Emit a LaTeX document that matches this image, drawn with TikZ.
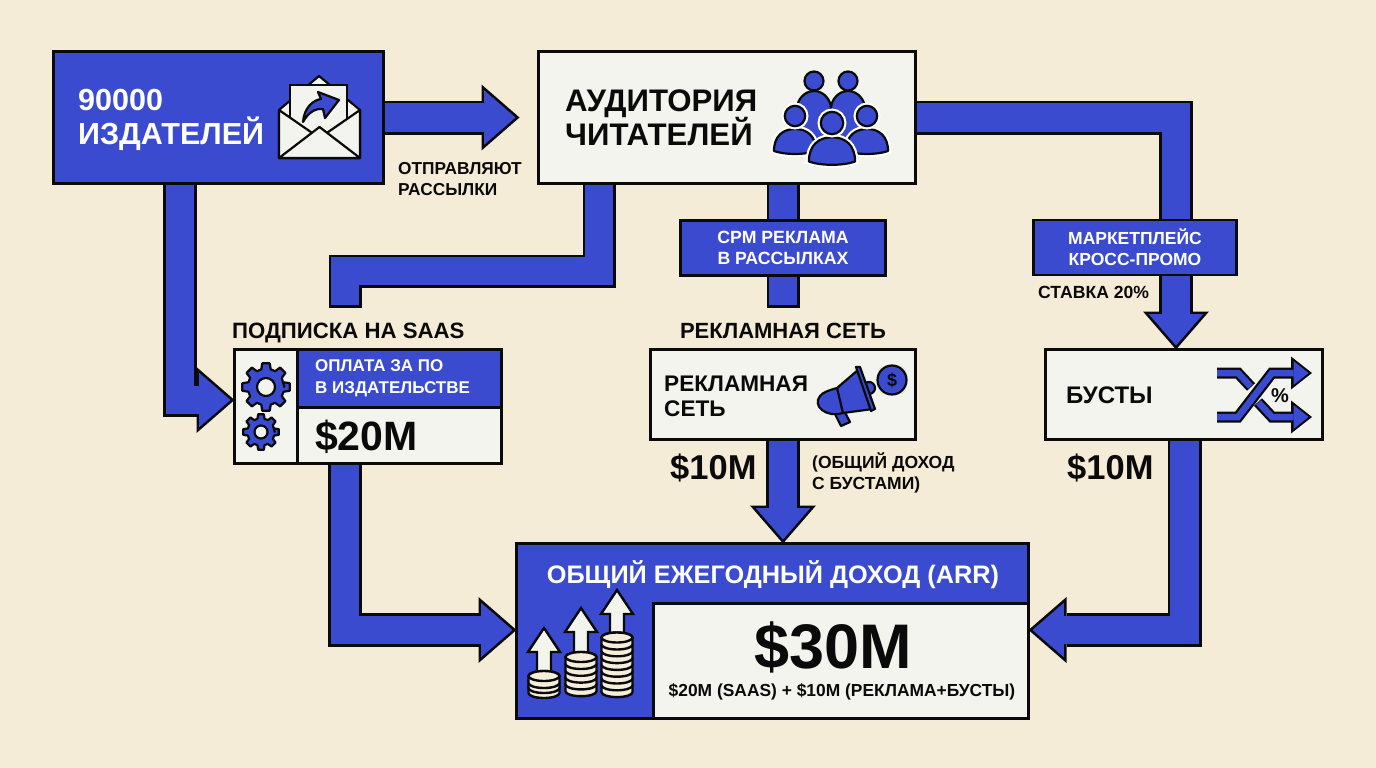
\documentclass[tikz,border=0pt]{standalone}
\usepackage{fontspec}
\setmainfont{Liberation Sans}
\usepackage{xcolor}
\usetikzlibrary{arrows.meta, backgrounds}
\definecolor{PageCream}{HTML}{F5ECD7}
\definecolor{FlowBlue}{HTML}{3A4BCF}
\definecolor{PaperWhite}{HTML}{F4F4EE}
\definecolor{CoinCream}{HTML}{F6EEDC}
\definecolor{InkBlack}{HTML}{0A0A0A}

\newcommand{\fs}[2]{\fontsize{#1}{#2}\selectfont\bfseries\lineskiplimit=-50pt\relax}

\tikzset{
    flow/.style={
        preaction={draw=InkBlack, line width=34pt, shorten >=0pt,
            -{Triangle[length=38pt, width=66pt, line width=0pt, color=InkBlack, fill=InkBlack]}},
        draw=FlowBlue, line width=28.8pt, shorten >=4pt,
        -{Triangle[length=31.4pt, width=54.5pt, line width=0pt, color=FlowBlue, fill=FlowBlue]}},
    flowline/.style={
        preaction={draw=InkBlack, line width=33pt, shorten >=0pt},
        draw=FlowBlue, line width=27.8pt, shorten >=2.6pt},
    shuffleout/.style={draw=InkBlack, line width=11pt, line join=miter,
        -{Triangle[length=21pt, width=33pt, line width=0pt, color=InkBlack, fill=InkBlack]}},
    shufflein/.style={draw=FlowBlue, line width=6.5pt, line join=miter, shorten >=3.5pt,
        -{Triangle[length=15pt, width=24pt, line width=0pt, color=FlowBlue, fill=FlowBlue]}},
    bluebox/.style={draw=InkBlack, line width=2.6pt, fill=FlowBlue, outer sep=0pt, inner sep=0pt},
    paperbox/.style={draw=InkBlack, line width=2.6pt, fill=PaperWhite, outer sep=0pt, inner sep=0pt},
    blacktxt/.style={text=InkBlack, inner sep=0pt, align=left, anchor=west},
    whitetxt/.style={text=white, inner sep=0pt, align=left, anchor=west},
    icon/.style={draw=InkBlack, line width=2.2pt, fill=FlowBlue, line join=round},
    iconpaper/.style={draw=InkBlack, line width=2.2pt, fill=PaperWhite, line join=round},
    halo/.style={preaction={draw=white, line width=6.5pt}},
}

% head at (#2,#3), size factor #4
\newcommand{\person}[4][]{
    \begin{scope}[shift={(#2,#3)}, scale=#4]
        \draw[icon, #1] (-21,35) .. controls (-21,20) and (-12,13) .. (0,13)
            .. controls (12,13) and (21,20) .. (21,35)
            .. controls (10,39) and (-10,39) .. cycle;
        \draw[icon, #1] (0,0) circle (10.2);
    \end{scope}
}
% person behind the others: head at (#1,#2), long body
\newcommand{\backperson}[2]{
    \begin{scope}[shift={(#1,#2)}]
        \draw[icon] (-17,60) -- (-17,28) .. controls (-17,18) and (-9,10) .. (0,10)
            .. controls (9,10) and (17,18) .. (17,28) -- (17,60) -- cycle;
        \draw[icon] (0,0) circle (9.5);
    \end{scope}
}
% centre (#1,#2), outer radius #3, hole radius #4
\newcommand{\gear}[4]{
    \begin{scope}[shift={(#1,#2)}]
        \draw[icon] (0:#3*0.76) \foreach \a in {0,45,...,315} {
            -- (\a-15:#3*0.76) -- (\a-9:#3) -- (\a+9:#3) -- (\a+15:#3*0.76)
        } -- cycle;
        \draw[iconpaper] (0,0) circle (#4);
    \end{scope}
}
% centre x #1, top y #2, number of coins #3, coin step #4
\newcommand{\coins}[4]{
    \foreach \k in {#3,...,1} {
        \pgfmathsetmacro{\ytop}{#2+(\k-1)*#4}
        \draw[draw=InkBlack, line width=2.4pt, fill=CoinCream]
            (#1-15.5,\ytop) -- (#1-15.5,\ytop+7) arc[start angle=180, end angle=360, x radius=15.5, y radius=-5]
            -- (#1+15.5,\ytop) arc[start angle=0, end angle=180, x radius=15.5, y radius=-5] -- cycle;
    }
    \draw[draw=InkBlack, line width=2.4pt, fill=CoinCream] (#1,#2) ellipse (15.5 and 5);
}
% tip x #1, tip y #2, foot y #3
\newcommand{\uparrowicon}[3]{
    \draw[iconpaper, line width=2.4pt, line join=miter] (#1,#2) -- (#1+16,#2+24) -- (#1+7,#2+24) -- (#1+7,#3)
        -- (#1-7,#3) -- (#1-7,#2+24) -- (#1-16,#2+24) -- cycle;
}

\begin{document}
\begin{tikzpicture}[x=1pt, y=-1pt]
    \useasboundingbox (0,0) rectangle (1376,768);

    % Boxes
    \node[bluebox, minimum width=330pt, minimum height=132pt] (publishers) at (218.5,117.5) {};
    \node[paperbox, minimum width=377pt, minimum height=132pt] (audience) at (727,117.5) {};
    \node[paperbox, minimum width=267pt, minimum height=114pt] (saas) at (368,406.5) {};
    \node[bluebox, minimum width=204pt, minimum height=58pt] (saashead) at (399.5,378.5) {};
    \draw[InkBlack, line width=2.6pt] (saashead.south west) -- (saashead.west |- saas.south);
    \node[paperbox, minimum width=265pt, minimum height=90pt] (adnet) at (783,394.5) {};
    \node[paperbox, minimum width=277pt, minimum height=90pt] (boosts) at (1184,394.5) {};
    \node[bluebox, minimum width=205pt, minimum height=55pt] (cpm) at (783,248) {};
    \node[bluebox, minimum width=203pt, minimum height=55pt] (market) at (1135,247.5) {};
    \node[bluebox, minimum width=512pt, minimum height=175pt] (arr) at (772.5,631) {};
    \node[paperbox, minimum width=375pt, minimum height=115pt] (arrvalue) at (841,661) {};

    % Free ends of the connectors
    \coordinate (saasstub) at (345,308);
    \coordinate (cpmstub) at (783,308);

    % Block connectors, below the boxes
    \begin{pgfonlayer}{background}
        \fill[PageCream] (0,0) rectangle (1376,768);
        \draw[flow] (publishers.east) -- ([xshift=-19pt]audience.west);
        \draw[flow] ([xshift=-38.5pt]publishers.south) |- ([yshift=6.5pt]saas.west);
        \draw[flowline] ([xshift=-128pt]audience.south) -- ++(0,87.5) -| (saasstub);
        \draw[flowline] (audience.south -| cpmstub) -- (cpmstub);
        \draw[flow] (audience.east) -| ([xshift=-8pt]boosts.north);
        \draw[flow] (adnet.south) -- ([xshift=10.5pt]arr.north);
        \draw[flow] ([xshift=-23pt]saas.south) |- ([yshift=1pt]arr.west);
        \draw[flow] ([xshift=0.5pt]boosts.south) |- ([yshift=1pt]arr.east);
    \end{pgfonlayer}

    % Texts
    \node[whitetxt, font=\fs{30.5}{34}] (publisherstxt) at (78,119.5) {90000\\ИЗДАТЕЛЕЙ};
    \node[blacktxt, font=\fs{17.3}{20.5}] (sendtxt) at (398,179) {ОТПРАВЛЯЮТ\\РАССЫЛКИ};
    \node[blacktxt, font=\fs{31.2}{34}] (audiencetxt) at (565,117.5) {АУДИТОРИЯ\\ЧИТАТЕЛЕЙ};
    \node[whitetxt, font=\fs{17.7}{21}, align=center, anchor=center] (cpmtxt) at (cpm) {СРМ РЕКЛАМА\\В РАССЫЛКАХ};
    \node[whitetxt, font=\fs{17.5}{21}, align=center, anchor=center] (markettxt) at (market) {МАРКЕТПЛЕЙС\\КРОСС-ПРОМО};
    \node[blacktxt, font=\fs{17.6}{17.6}] (ratetxt) at (1038,292) {СТАВКА 20\%};
    \node[blacktxt, font=\fs{22.2}{22}] (saastitle) at (232,332.5) {ПОДПИСКА НА SAAS};
    \node[whitetxt, font=\fs{17}{22}] (saasheadtxt) at (315,378.5) {ОПЛАТА ЗА ПО\\В ИЗДАТЕЛЬСТВЕ};
    \node[blacktxt, font=\fs{41}{41}] (saasval) at (315,437) {\$20M};
    \node[blacktxt, font=\fs{22}{22}, anchor=center] (adtitle) at (783,330.5) {РЕКЛАМНАЯ СЕТЬ};
    \node[blacktxt, font=\fs{22.6}{25}] (adtxt) at (664,396) {РЕКЛАМНАЯ\\СЕТЬ};
    \node[blacktxt, font=\fs{34.5}{34.5}] (adval) at (670,468) {\$10M};
    \node[blacktxt, font=\fs{17.5}{21.5}] (adnote) at (812,473) {(ОБЩИЙ ДОХОД\\С БУСТАМИ)};
    \node[blacktxt, font=\fs{24}{24}] (boosttxt) at (1066,395) {БУСТЫ};
    \node[blacktxt, font=\fs{34.5}{34.5}] (boostval) at (1067,468) {\$10M};
    \node[whitetxt, font=\fs{25.3}{25}, anchor=center] (arrtitle) at (773,575) {ОБЩИЙ ЕЖЕГОДНЫЙ ДОХОД (ARR)};
    \node[blacktxt, font=\fs{63}{63}, anchor=center] (arrval) at (833,647) {\$30M};
    \node[blacktxt, font=\fs{17.4}{17}, anchor=center] (arrsum) at (842,692) {\$20M (SAAS) + \$10M (РЕКЛАМА+БУСТЫ)};

    % Envelope icon
    \draw[iconpaper] (279,110) -- (319,76) -- (360,110) -- (360,158) -- (279,158) -- cycle;
    \draw[iconpaper, line join=miter] (290,136) -- (290,85) -- (347,85) -- (347,136);
    \draw[icon] (303,122) .. controls (304,108) and (313,100) .. (321,99) -- (318,92) -- (339,100)
        -- (325,118) -- (323,109) .. controls (315,108) and (308,113) .. cycle;
    \draw[iconpaper] (279,110) -- (319.5,138) -- (360,110) -- (360,158) -- (279,158) -- cycle;
    \draw[iconpaper] (279,158) -- (319.5,127) -- (360,158) -- cycle;

    % Audience icon
    \backperson{814}{81}
    \backperson{848}{81}
    \person[halo]{795}{116}{1}
    \person[halo]{867}{116}{1}
    \person[halo]{832}{123}{1.1}

    % Gear icons
    \gear{266}{387}{24}{9}
    \gear{261}{432}{18}{6.5}

    % Megaphone icon
    \draw[icon] (869,388) circle (6);
    \draw[icon] (832,408) -- (842,407) -- (850,422) -- (841,426) -- cycle;
    \draw[icon] (837,388) -- (858,370) -- (873,409) -- (843,413)
        .. controls (826,418) and (812,406) .. (820,396) .. controls (823,392) and (830,390) .. cycle;
    \draw[icon] (837,388) -- (843,413);
    \draw[icon] (856,367) -- (860,367) -- (875,409) -- (871,411) -- cycle;
    \draw[icon] (892,380) circle (14.5);
    \node[blacktxt, font=\fs{18}{18}, anchor=center] (dollar) at (892,380) {\$};

    % Shuffle icon
    \draw[draw=InkBlack, line width=11pt, line join=miter] (1217,373) -- (1238,373) -- (1251,387);
    \draw[draw=FlowBlue, line width=6.5pt, line join=miter] (1217,373) -- (1238,373) -- (1250.5,386.5);
    \draw[shuffleout] (1258,402) -- (1272,417) -- (1312,417);
    \draw[shufflein] (1258.5,402.5) -- (1272,417) -- (1312,417);
    \draw[shuffleout] (1217,417) -- (1238,417) -- (1272,373) -- (1312,373);
    \draw[shufflein] (1217,417) -- (1238,417) -- (1272,373) -- (1312,373);
    \node[blacktxt, font=\fs{20}{20}, anchor=center] (percent) at (1280,396) {\%};

    % Coin stacks with arrows
    \uparrowicon{544}{628}{672}
    \uparrowicon{581}{608}{653}
    \uparrowicon{617}{590}{634}
    \coins{544}{676}{3}{5}
    \coins{581}{657}{5}{6.8}
    \coins{617}{637.5}{8}{6.8}
\end{tikzpicture}
\end{document}
